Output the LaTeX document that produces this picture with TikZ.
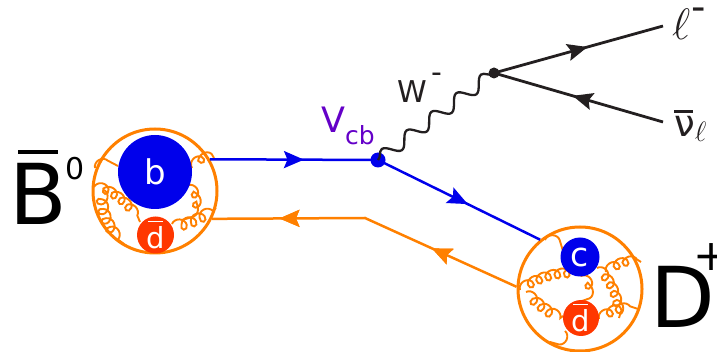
\RequirePackage{fix-cm}
\documentclass[tikz,border=0pt]{standalone}
\usepackage{fontspec}
\setmainfont{DejaVu Sans}
\usetikzlibrary{decorations.pathmorphing,decorations.markings,arrows.meta}

\definecolor{mesonorange}{RGB}{255,128,0}
\definecolor{quarkblue}{RGB}{0,0,235}
\definecolor{antired}{RGB}{255,55,0}
\definecolor{ckmpurple}{RGB}{100,0,200}
\definecolor{leptonblack}{RGB}{35,31,32}

% text with a bar over it: left inset, bar width, bar thickness, gap, text
\newcommand\barred[5]{\vbox{\offinterlineskip
  \hbox{\kern#1\vrule width #2 height #3 depth 0pt}\kern #4\hbox{#5}}}
\newcommand\fs[1]{\fontsize{#1}{#1}\selectfont}

\begin{document}
\begin{tikzpicture}[x=1pt,y=-1pt,
  meson/.style={circle, draw=mesonorange, line width=3pt, minimum size=124pt, inner sep=0pt},
  quarkball/.style={circle, fill=quarkblue, text=white, inner sep=0pt},
  antiball/.style={circle, fill=antired, text=white, inner sep=0pt},
  gluon/.style={draw=mesonorange, line width=1.9pt, decorate,
    decoration={coil, amplitude=5pt, segment length=9.5pt, aspect=1}},
  quarkline/.style={draw=quarkblue, line width=2.5pt},
  antiline/.style={draw=mesonorange, line width=2.5pt},
  leptonline/.style={draw=leptonblack, line width=2.8pt},
  arrowat/.style={postaction={decorate}, decoration={markings,
    mark=at position #1 with {\arrow{Stealth[length=20pt,width=17pt,inset=3.5pt]}}}},
  label/.style={inner sep=0pt, anchor=base west}
]
\useasboundingbox (0,0) rectangle (717,352);

% --- mesons and their valence quarks ---
\node[meson] (Bmes) at (155,191) {};
\node[meson] (Dmes) at (580,289) {};

% gluons inside the B meson
\draw[gluon] (95,168) to[bend left=25] (118,166);
\draw[gluon] (192,168) to[bend left=25] (214,158);
\draw[gluon] (94,187) .. controls (112,190) and (130,205) .. (140,222);
\draw[gluon] (104,190) .. controls (100,210) and (110,230) .. (124,244);
\draw[gluon] (186,186) .. controls (198,195) and (196,210) .. (182,220);
\draw[gluon] (172,224) .. controls (190,225) and (205,214) .. (216,208);

% gluons inside the D meson
\draw[gluon] (545,240) to[bend left=30] (563,251);
\draw[gluon] (520,290) .. controls (540,276) and (565,270) .. (581,276);
\draw[gluon] (581,276) .. controls (590,285) and (586,295) .. (582,301);
\draw[gluon] (526,292) .. controls (540,306) and (552,315) .. (563,316);
\draw[gluon] (597,268) .. controls (612,282) and (618,300) .. (619,318);
\draw[gluon] (606,272) to[bend left=20] (641,262);
\draw[gluon] (599,319) to[bend left=20] (638,309);
\draw[gluon] (565,331) to[bend left=30] (550,342);

\node[quarkball, minimum size=74pt, font=\fs{34}] (bq) at (155,172) {b};
\node[antiball, minimum size=37pt, font=\fs{29}] (dbB) at (155.5,235)
  {\barred{1.5pt}{15pt}{1.8pt}{4.5pt}{d}};
\node[quarkball, minimum size=39pt, font=\fs{33}] (cq) at (580,257) {c};
\node[antiball, minimum size=36pt, font=\fs{29}] (dbD) at (581,318)
  {\barred{1.5pt}{15pt}{1.8pt}{4.5pt}{d}};

% --- weak vertex and quark lines ---
\coordinate (kink) at (365,218);
\node[circle, fill=quarkblue, minimum size=15pt, inner sep=0pt] (Vtx) at (378,160) {};
\node[circle, fill=leptonblack, minimum size=11pt, inner sep=0pt] (Wvtx) at (494,73) {};

\draw[quarkline, arrowat=94pt] (Bmes.30) -- (Vtx.center);
\draw[quarkline, arrowat=100pt] (Vtx.center) -- (Dmes.129);
\draw[antiline, arrowat=93pt, arrowat=252pt] (Dmes.178) -- (kink) -- (Bmes.-26);

% --- W boson and leptons ---
\draw[leptonblack, line width=2.3pt, decorate,
  decoration={snake, amplitude=6.5pt, segment length=31pt}] (Vtx.center) -- (Wvtx.center);

\coordinate (lepEnd) at (663,26);
\coordinate (nuEnd) at (663,122);
\draw[leptonline, arrowat=97pt] (Wvtx.center) -- (lepEnd);
\draw[leptonline, arrowat=94pt] (nuEnd) -- (Wvtx.center);

% --- labels ---
\node[label, font=\fs{84}] (Blab) at (9,225)
  {\barred{9pt}{40pt}{4pt}{10pt}{B}\kern-1.5pt\raisebox{45pt}{\fs{30}0}};
\node[label, font=\fs{84}] (Dlab) at (650,328)
  {D\kern-21pt\smash{\raisebox{57pt}{\fs{43}+}}};
\node[label, font=\fs{30}, text=leptonblack] (Wlab) at (397,103)
  {W\kern4.8pt\raisebox{20pt}{-}};
\node[label, font=\fs{35}, text=ckmpurple] (Vlab) at (321,133)
  {V\raisebox{-12pt}{\fs{25}cb}};
\node[label, font=\fs{44}, text=leptonblack] (lepLab) at (672,40)
  {$\ell$\kern1pt\smash{\raisebox{19pt}{\fs{40}-}}};
\node[label, font=\fs{37}, text=leptonblack] (nuLab) at (674,137)
  {\barred{0pt}{19pt}{3pt}{4pt}{ν}\raisebox{-5pt}{\fs{28}$\ell$}};
\end{tikzpicture}
\end{document}
